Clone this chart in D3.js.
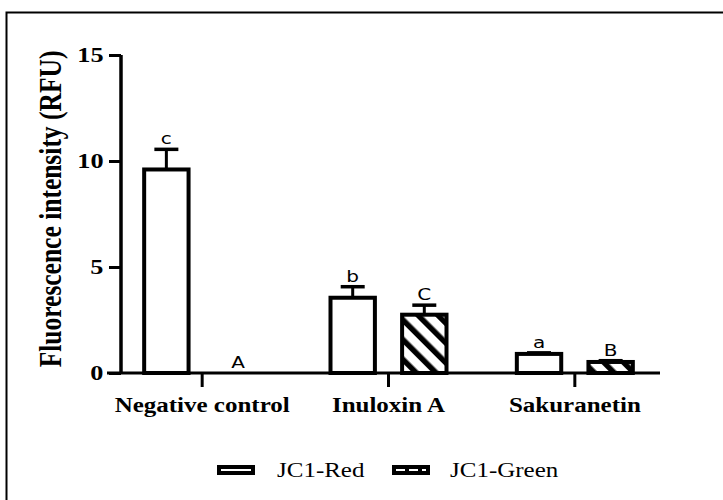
<!DOCTYPE html>
<html>
<head>
<meta charset="utf-8">
<script src="https://cdn.jsdelivr.net/npm/d3@7"></script>
<style>
  html, body { margin: 0; padding: 0; background: #fff; }
  svg { display: block; }
</style>
</head>
<body>
<svg id="chart" width="723" height="500"></svg>
<script>
// Treatment groups and the two JC-1 channels
const categories = ["Negative control", "Inuloxin A", "Sakuranetin"];
const seriesNames = ["JC1-Red", "JC1-Green"];
const redMeans = [9.6, 3.55, 0.9];
const redErrors = [0.95, 0.52, 0.05];
const greenMeans = [0, 2.75, 0.52];
const greenErrors = [0, 0.45, 0.06];
const redLetters = ["c", "b", "a"];
const greenLetters = ["A", "C", "B"];
const yTicks = [0, 5, 10, 15];

// text is drawn horizontally widened, as in the exported figure
const SX = 1.25;
const serif = "Liberation Serif, Times New Roman, serif";

const svg = d3.select("#chart");

// outer frame
svg.append("rect")
  .attr("x", 6.5).attr("y", 12.5)
  .attr("width", 740).attr("height", 520)
  .attr("fill", "none").attr("stroke", "#000").attr("stroke-width", 2);

const y = d3.scaleLinear().domain([0, 15]).range([373, 55]);
const x = d3.scaleBand().domain(categories).range([109, 668]).paddingInner(0).paddingOuter(0);
const sub = d3.scaleBand().domain(seriesNames).range([-58, 58]).paddingInner(0.38).paddingOuter(0);

// hatch pattern for the green channel
const defs = svg.append("defs");
const pat = defs.append("pattern")
  .attr("id", "hatch")
  .attr("patternUnits", "userSpaceOnUse")
  .attr("width", 14).attr("height", 14)
  .attr("patternTransform", "rotate(-45)");
pat.append("rect").attr("width", 14).attr("height", 14).attr("fill", "#fff");
pat.append("rect").attr("x", 0).attr("y", 0).attr("width", 5.5).attr("height", 14).attr("fill", "#000");

const rows = categories.map((c, i) => [
  { cat: c, s: "JC1-Red", v: redMeans[i], e: redErrors[i], letter: redLetters[i] },
  { cat: c, s: "JC1-Green", v: greenMeans[i], e: greenErrors[i], letter: greenLetters[i] }
]).flat();

const cx = d => x(d.cat) + x.bandwidth() / 2 + sub(d.s);
const bw = sub.bandwidth();

const g = svg.append("g");

// error bars (drawn under the bar outline)
rows.filter(d => d.e > 0).forEach(d => {
  const mid = cx(d) + bw / 2;
  g.append("line")
    .attr("x1", mid).attr("x2", mid)
    .attr("y1", y(d.v)).attr("y2", y(d.v + d.e))
    .attr("stroke", "#000").attr("stroke-width", 3);
  g.append("line")
    .attr("x1", mid - 12).attr("x2", mid + 12)
    .attr("y1", y(d.v + d.e)).attr("y2", y(d.v + d.e))
    .attr("stroke", "#000").attr("stroke-width", 3.5);
});

// bars
rows.filter(d => d.v > 0).forEach(d => {
  g.append("rect")
    .attr("x", cx(d)).attr("y", y(d.v))
    .attr("width", bw).attr("height", y(0) - y(d.v))
    .attr("fill", d.s === "JC1-Red" ? "#fff" : "url(#hatch)")
    .attr("stroke", "#000").attr("stroke-width", 4);
});

// significance letters
rows.forEach(d => {
  g.append("text")
    .attr("transform", `translate(${cx(d) + bw / 2},${y(d.v + d.e) - 5}) scale(${SX},1)`)
    .attr("text-anchor", "middle")
    .attr("font-family", "DejaVu Sans, sans-serif")
    .attr("font-size", 16)
    .text(d.letter);
});

// y axis
const yAxis = svg.append("g")
  .attr("transform", "translate(121,0)")
  .call(d3.axisLeft(y).tickValues(yTicks).tickSize(12).tickPadding(2));
yAxis.select(".domain").attr("stroke-width", 3.5).attr("d", `M0,${y(15)}V${y(0)}`);
yAxis.selectAll(".tick line").attr("stroke-width", 3);
yAxis.selectAll(".tick text")
  .attr("transform", `scale(${SX},1)`)
  .attr("font-family", serif)
  .attr("font-weight", "bold")
  .attr("font-size", 21)
  .attr("fill", "#000");

// x axis
const xAxis = svg.append("g")
  .attr("transform", `translate(0,${y(0)})`)
  .call(d3.axisBottom(x).tickSize(14).tickPadding(11));
xAxis.select(".domain").attr("stroke-width", 3).attr("d", `M107,0H660`);
xAxis.selectAll(".tick line").attr("stroke-width", 3);
xAxis.selectAll(".tick text")
  .attr("transform", `scale(${SX},1)`)
  .attr("font-family", serif)
  .attr("font-weight", "bold")
  .attr("font-size", 20)
  .attr("fill", "#000");

// y-axis title
svg.append("text")
  .attr("transform", `translate(61,209) scale(${SX},1) rotate(-90)`)
  .attr("text-anchor", "middle")
  .attr("font-family", serif)
  .attr("font-weight", "bold")
  .attr("font-size", 25.5)
  .text("Fluorescence intensity (RFU)");

// legend
const legend = svg.append("g");
const legendItems = [
  { name: seriesNames[0], sx: 217, tx: 277, dashed: false },
  { name: seriesNames[1], sx: 392, tx: 450, dashed: true }
];
legendItems.forEach(it => {
  legend.append("rect")
    .attr("x", it.sx).attr("y", 465)
    .attr("width", 38).attr("height", 10)
    .attr("fill", "#000");
  legend.append("line")
    .attr("x1", it.sx + 4).attr("x2", it.sx + 34)
    .attr("y1", 470).attr("y2", 470)
    .attr("stroke", "#fff").attr("stroke-width", 2)
    .attr("stroke-dasharray", it.dashed ? "9,4" : null);
  legend.append("text")
    .attr("transform", `translate(${it.tx},477) scale(${SX},1)`)
    .attr("font-family", serif)
    .attr("font-size", 20)
    .text(it.name);
});
</script>
</body>
</html>
